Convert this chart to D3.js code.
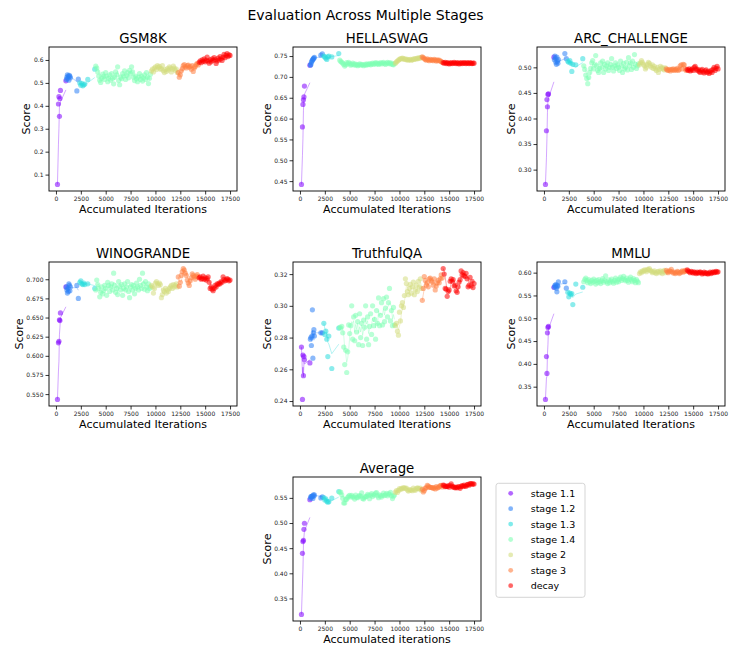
<!DOCTYPE html>
<html>
<head>
<meta charset="utf-8">
<script src="https://cdn.jsdelivr.net/npm/d3@7"></script>
<style>
  body { margin: 0; background: #fff; }
  svg { display: block; }
  text { font-family: "DejaVu Sans", sans-serif; }
</style>
</head>
<body>
<div class="chart"></div>
<script>
const stageNames = ["stage 1.1", "stage 1.2", "stage 1.3", "stage 1.4", "stage 2", "stage 3", "decay"];
const stageColors = ["#8000ff", "#2b80f6", "#2bdddd", "#80ffb4", "#d4dd80", "#ff8042", "#ff0000"];

// iterations of each checkpoint, one list per stage
const iters11 = [150, 250, 300, 350, 400, 450, 1000];
const iters12 = [1050, 1100, 1150, 1200, 1250, 1300, 1350, 1400, 1450, 2100, 2250];
const iters13 = [2400, 2500, 2600, 2700, 2800, 2900, 3200, 3900];
const iters14 = [4000, 4100, 4200, 4300, 4400, 4500, 4600, 4700, 4800, 4900,
  5000, 5100, 5200, 5300, 5400, 5500, 5600, 5700, 5800, 5900,
  6000, 6100, 6200, 6300, 6400, 6500, 6600, 6700, 6800, 6900,
  7000, 7100, 7200, 7300, 7400, 7500, 7600, 7700, 7800, 7900,
  8000, 8100, 8200, 8300, 8400, 8500, 8600, 8700, 8800, 8900,
  9000, 9100, 9200, 9300, 9400, 9500];
const iters2 = [9600, 9700, 9800, 9900, 10000, 10100, 10200, 10300, 10400, 10500,
  10600, 10700, 10800, 10900, 11000, 11100, 11200, 11300, 11400, 11500,
  11600, 11700, 11800, 11900, 12000, 12100, 12200];
const iters3 = [12300, 12400, 12500, 12600, 12700, 12800, 12900, 13000, 13100, 13200,
  13300, 13400, 13500, 13600, 13700, 13800, 13900, 14000, 14100, 14200, 14300];
const itersDecay = [14400, 14500, 14600, 14700, 14800, 14900, 15000, 15100, 15200, 15300,
  15400, 15500, 15600, 15700, 15800, 15900, 16000, 16100, 16200, 16300,
  16400, 16500, 16600, 16700, 16800, 16900, 17000, 17100, 17200, 17300, 17400, 17500];
const stageIters = [iters11, iters12, iters13, iters14, iters2, iters3, itersDecay];

// scores, one list per stage
const gsm8kScores = [
  [0.057, 0.408, 0.440, 0.354, 0.432, 0.467, 0.509],
  [0.515, 0.525, 0.535, 0.520, 0.530, 0.512, 0.533, 0.528, 0.522, 0.465, 0.516],
  [0.500, 0.490, 0.498, 0.487, 0.492, 0.495, 0.515, 0.560],
  [0.573, 0.565, 0.548, 0.530, 0.512, 0.502, 0.520, 0.538, 0.528, 0.515,
   0.545, 0.530, 0.505, 0.520, 0.535, 0.512, 0.540, 0.520, 0.496, 0.525,
   0.548, 0.535, 0.570, 0.510, 0.492, 0.525, 0.518, 0.540, 0.530, 0.552,
   0.515, 0.532, 0.545, 0.522, 0.555, 0.540, 0.570, 0.548, 0.525, 0.510,
   0.530, 0.518, 0.505, 0.525, 0.540, 0.515, 0.530, 0.508, 0.522, 0.535,
   0.515, 0.545, 0.525, 0.497, 0.520, 0.538],
  [0.552, 0.560, 0.548, 0.565, 0.570, 0.558, 0.575, 0.568, 0.572, 0.560,
   0.562, 0.575, 0.553, 0.545, 0.558, 0.550, 0.562, 0.556, 0.570, 0.565,
   0.548, 0.560, 0.573, 0.565, 0.555, 0.560, 0.545],
  [0.545, 0.525, 0.535, 0.553, 0.562, 0.575, 0.580, 0.570, 0.565, 0.575,
   0.578, 0.568, 0.572, 0.560, 0.575, 0.550, 0.565, 0.572, 0.580, 0.585, 0.578],
  [0.590, 0.596, 0.588, 0.600, 0.594, 0.605, 0.592, 0.598, 0.612, 0.595,
   0.586, 0.600, 0.592, 0.605, 0.598, 0.610, 0.602, 0.585, 0.596, 0.608,
   0.600, 0.615, 0.605, 0.598, 0.612, 0.625, 0.610, 0.620, 0.628, 0.615, 0.622, 0.620]
];
const hellaswagScores = [
  [0.442, 0.580, 0.634, 0.645, 0.652, 0.678, 0.728],
  [0.728, 0.730, 0.735, 0.738, 0.740, 0.742, 0.744, 0.745, 0.747, 0.752, 0.755],
  [0.750, 0.748, 0.745, 0.742, 0.748, 0.750, 0.748, 0.756],
  [0.740, 0.737, 0.735, 0.733, 0.730, 0.726, 0.729, 0.734, 0.731, 0.735,
   0.732, 0.728, 0.730, 0.733, 0.729, 0.731, 0.728, 0.730, 0.727, 0.729,
   0.731, 0.728, 0.730, 0.729, 0.727, 0.730, 0.728, 0.731, 0.729, 0.730,
   0.732, 0.729, 0.731, 0.733, 0.730, 0.732, 0.734, 0.731, 0.733, 0.730,
   0.732, 0.734, 0.731, 0.733, 0.735, 0.732, 0.730, 0.733, 0.735, 0.732,
   0.734, 0.731, 0.733, 0.730, 0.729, 0.732],
  [0.733, 0.736, 0.738, 0.740, 0.742, 0.744, 0.743, 0.745, 0.744, 0.742,
   0.743, 0.741, 0.742, 0.740, 0.741, 0.742, 0.740, 0.741, 0.743, 0.742,
   0.744, 0.743, 0.745, 0.744, 0.746, 0.745, 0.747],
  [0.748, 0.746, 0.744, 0.742, 0.740, 0.743, 0.741, 0.739, 0.742, 0.740,
   0.741, 0.739, 0.742, 0.740, 0.738, 0.741, 0.739, 0.740, 0.738, 0.737, 0.735],
  [0.734, 0.733, 0.735, 0.732, 0.734, 0.733, 0.731, 0.733, 0.734, 0.732,
   0.733, 0.735, 0.733, 0.732, 0.734, 0.733, 0.731, 0.733, 0.734, 0.732,
   0.733, 0.734, 0.733, 0.732, 0.734, 0.733, 0.732, 0.734, 0.733, 0.732, 0.733, 0.733]
];
const arcScores = [
  [0.271, 0.376, 0.437, 0.423, 0.447, 0.448, 0.520],
  [0.515, 0.522, 0.518, 0.510, 0.506, 0.520, 0.512, 0.508, 0.515, 0.527, 0.517],
  [0.512, 0.510, 0.513, 0.508, 0.492, 0.506, 0.505, 0.517],
  [0.503, 0.496, 0.485, 0.478, 0.468, 0.480, 0.490, 0.498, 0.509, 0.513,
   0.497, 0.505, 0.523, 0.503, 0.494, 0.490, 0.498, 0.509, 0.500, 0.512,
   0.490, 0.506, 0.497, 0.503, 0.509, 0.494, 0.500, 0.506, 0.517, 0.500,
   0.493, 0.503, 0.509, 0.498, 0.505, 0.500, 0.494, 0.512, 0.503, 0.490,
   0.508, 0.497, 0.500, 0.510, 0.495, 0.519, 0.503, 0.509, 0.496, 0.512,
   0.500, 0.525, 0.506, 0.498, 0.503, 0.507],
  [0.505, 0.509, 0.513, 0.510, 0.506, 0.503, 0.497, 0.500, 0.506, 0.510,
   0.508, 0.503, 0.500, 0.505, 0.498, 0.502, 0.497, 0.494, 0.500, 0.490,
   0.496, 0.502, 0.498, 0.500, 0.497, 0.495, 0.499],
  [0.497, 0.495, 0.494, 0.496, 0.493, 0.496, 0.495, 0.497, 0.494, 0.496,
   0.495, 0.498, 0.494, 0.496, 0.503, 0.505, 0.497, 0.506, 0.505, 0.497, 0.494],
  [0.496, 0.494, 0.497, 0.493, 0.495, 0.497, 0.494, 0.500, 0.502, 0.497,
   0.494, 0.496, 0.492, 0.490, 0.494, 0.496, 0.491, 0.489, 0.493, 0.495,
   0.490, 0.492, 0.488, 0.491, 0.494, 0.490, 0.496, 0.500, 0.494, 0.498, 0.502, 0.497]
];
const winograndeScores = [
  [0.543, 0.617, 0.619, 0.647, 0.646, 0.656, 0.690],
  [0.690, 0.686, 0.682, 0.688, 0.684, 0.694, 0.692, 0.685, 0.690, 0.692, 0.675],
  [0.696, 0.698, 0.694, 0.693, 0.695, 0.693, 0.694, 0.688],
  [0.686, 0.699, 0.693, 0.688, 0.677, 0.683, 0.690, 0.681, 0.685, 0.692,
   0.688, 0.679, 0.696, 0.692, 0.684, 0.690, 0.694, 0.686, 0.708, 0.692,
   0.683, 0.688, 0.680, 0.697, 0.691, 0.686, 0.693, 0.679, 0.688, 0.694,
   0.686, 0.690, 0.697, 0.684, 0.676, 0.690, 0.693, 0.686, 0.692, 0.681,
   0.688, 0.695, 0.690, 0.686, 0.700, 0.692, 0.688, 0.708, 0.694, 0.687,
   0.697, 0.690, 0.685, 0.694, 0.688, 0.690],
  [0.692, 0.690, 0.682, 0.688, 0.695, 0.697, 0.694, 0.692, 0.695, 0.693,
   0.676, 0.680, 0.686, 0.684, 0.688, 0.682, 0.686, 0.684, 0.688, 0.690,
   0.692, 0.688, 0.693, 0.690, 0.692, 0.694, 0.690],
  [0.703, 0.691, 0.696, 0.705, 0.710, 0.714, 0.712, 0.708, 0.705, 0.699,
   0.695, 0.692, 0.698, 0.702, 0.707, 0.705, 0.703, 0.700, 0.704, 0.706, 0.703],
  [0.702, 0.703, 0.700, 0.701, 0.704, 0.700, 0.702, 0.699, 0.701, 0.703,
   0.696, 0.688, 0.690, 0.687, 0.685, 0.688, 0.692, 0.690, 0.694, 0.693,
   0.695, 0.694, 0.697, 0.696, 0.703, 0.700, 0.698, 0.699, 0.701, 0.700, 0.698, 0.699]
];
const truthfulqaScores = [
  [0.274, 0.241, 0.269, 0.256, 0.268, 0.266, 0.264],
  [0.279, 0.280, 0.275, 0.281, 0.2975, 0.267, 0.283, 0.285, 0.281, 0.283, 0.283],
  [0.289, 0.282, 0.284, 0.279, 0.268, 0.281, 0.2605, 0.286],
  [0.2865, 0.286, 0.287, 0.283, 0.274, 0.263, 0.272, 0.258, 0.271, 0.288,
   0.2825, 0.2875, 0.300, 0.279, 0.293, 0.278, 0.294, 0.2835, 0.290, 0.2755,
   0.295, 0.280, 0.289, 0.275, 0.291, 0.2865, 0.300, 0.279, 0.293, 0.2755,
   0.287, 0.295, 0.282, 0.300, 0.2875, 0.2915, 0.279, 0.297, 0.289, 0.305,
   0.2875, 0.294, 0.302, 0.288, 0.3045, 0.290, 0.2985, 0.3055, 0.293, 0.302,
   0.311, 0.2905, 0.297, 0.2875, 0.299, 0.288],
  [0.2875, 0.289, 0.284, 0.2815, 0.296, 0.2905, 0.300, 0.302, 0.299, 0.3065,
   0.317, 0.314, 0.309, 0.307, 0.311, 0.3135, 0.308, 0.312, 0.315, 0.307,
   0.310, 0.313, 0.309, 0.3155, 0.312, 0.317, 0.311],
  [0.3035, 0.311, 0.3185, 0.316, 0.313, 0.3145, 0.312, 0.317, 0.3175, 0.316,
   0.315, 0.313, 0.317, 0.310, 0.3125, 0.3145, 0.316, 0.3145, 0.317, 0.3195, 0.3175],
  [0.3235, 0.320, 0.311, 0.3105, 0.306, 0.309, 0.310, 0.3155, 0.317, 0.3155,
   0.3165, 0.3125, 0.313, 0.3095, 0.3085, 0.312, 0.315, 0.3165, 0.322, 0.3195,
   0.321, 0.319, 0.3185, 0.3205, 0.317, 0.312, 0.313, 0.318, 0.3125, 0.3155, 0.3115, 0.314]
];
const mmluScores = [
  [0.322, 0.416, 0.379, 0.468, 0.480, 0.482, 0.568],
  [0.568, 0.572, 0.570, 0.574, 0.566, 0.558, 0.572, 0.570, 0.580, 0.580, 0.566],
  [0.557, 0.547, 0.555, 0.552, 0.554, 0.530, 0.575, 0.568],
  [0.580, 0.585, 0.588, 0.583, 0.578, 0.585, 0.580, 0.576, 0.583, 0.579,
   0.586, 0.581, 0.575, 0.583, 0.578, 0.585, 0.580, 0.576, 0.582, 0.587,
   0.579, 0.583, 0.593, 0.580, 0.576, 0.584, 0.578, 0.582, 0.586, 0.580,
   0.577, 0.583, 0.588, 0.579, 0.584, 0.580, 0.586, 0.590, 0.583, 0.587,
   0.592, 0.585, 0.582, 0.588, 0.583, 0.579, 0.586, 0.590, 0.584, 0.580,
   0.587, 0.583, 0.578, 0.585, 0.581, 0.578],
  [0.598, 0.602, 0.600, 0.604, 0.603, 0.606, 0.605, 0.602, 0.607, 0.606,
   0.609, 0.605, 0.603, 0.600, 0.602, 0.604, 0.600, 0.598, 0.602, 0.603,
   0.600, 0.604, 0.601, 0.598, 0.603, 0.605, 0.600],
  [0.605, 0.602, 0.600, 0.604, 0.603, 0.607, 0.602, 0.599, 0.601, 0.598,
   0.600, 0.603, 0.601, 0.598, 0.600, 0.602, 0.604, 0.601, 0.603, 0.605, 0.603],
  [0.606, 0.604, 0.602, 0.600, 0.603, 0.601, 0.599, 0.602, 0.600, 0.598,
   0.601, 0.599, 0.600, 0.602, 0.600, 0.597, 0.599, 0.601, 0.598, 0.600,
   0.598, 0.597, 0.599, 0.601, 0.598, 0.600, 0.602, 0.600, 0.601, 0.603, 0.601, 0.602]
];
// Average = mean of the six benchmarks at each checkpoint
const benchScores = [gsm8kScores, hellaswagScores, arcScores, winograndeScores, truthfulqaScores, mmluScores];
const averageScores = stageIters.map((xs, s) =>
  xs.map((_, i) => d3.mean(benchScores, b => b[s][i])));

const xTicks = [0, 2500, 5000, 7500, 10000, 12500, 15000, 17500];

const panels = [
  { title: "GSM8K", scores: gsm8kScores, ticks: [0.1, 0.2, 0.3, 0.4, 0.5, 0.6], fmt: ".1f", col: 0, row: 0, xlabel: "Accumulated Iterations" },
  { title: "HELLASWAG", scores: hellaswagScores, ticks: [0.45, 0.5, 0.55, 0.6, 0.65, 0.7, 0.75], fmt: ".2f", col: 1, row: 0, xlabel: "Accumulated Iterations" },
  { title: "ARC_CHALLENGE", scores: arcScores, ticks: [0.3, 0.35, 0.4, 0.45, 0.5], fmt: ".2f", col: 2, row: 0, xlabel: "Accumulated Iterations" },
  { title: "WINOGRANDE", scores: winograndeScores, ticks: [0.55, 0.575, 0.6, 0.625, 0.65, 0.675, 0.7], fmt: ".3f", col: 0, row: 1, xlabel: "Accumulated Iterations" },
  { title: "TruthfulQA", scores: truthfulqaScores, ticks: [0.24, 0.26, 0.28, 0.3, 0.32], fmt: ".2f", col: 1, row: 1, xlabel: "Accumulated Iterations" },
  { title: "MMLU", scores: mmluScores, ticks: [0.35, 0.4, 0.45, 0.5, 0.55, 0.6], fmt: ".2f", col: 2, row: 1, xlabel: "Accumulated Iterations" },
  { title: "Average", scores: averageScores, ticks: [0.35, 0.4, 0.45, 0.5, 0.55], fmt: ".2f", col: 1, row: 2, xlabel: "Accumulated iterations" }
];

const w = 731, h = 651;
const colLeft = [49, 293, 537];
const rowTop = [47, 262, 477];
const pw = 188, ph = 144;
const xDomain = [-700, 18200];

const svg = d3.select(".chart").append("svg")
  .attr("width", w)
  .attr("height", h);

svg.append("text")
  .attr("x", 365.5)
  .attr("y", 19.5)
  .attr("text-anchor", "middle")
  .style("font-size", "14px")
  .text("Evaluation Across Multiple Stages");

panels.forEach(p => {
  const left = colLeft[p.col], top = rowTop[p.row];
  const x = d3.scaleLinear().domain(xDomain).range([left, left + pw]);
  const [lo, hi] = d3.extent(p.scores.flat());
  const pad = (hi - lo) * 0.05;
  const y = d3.scaleLinear().domain([lo - pad, hi + pad]).range([top + ph, top]);

  const g = svg.append("g");

  stageIters.forEach((xs, s) => {
    const pts = xs.map((it, i) => [it, p.scores[s][i]]).filter(d => d[1] != null);
    g.append("g")
      .selectAll("circle")
      .data(pts)
      .join("circle")
      .attr("cx", d => x(d[0]))
      .attr("cy", d => y(d[1]))
      .attr("r", 2.6)
      .attr("fill", stageColors[s])
      .attr("fill-opacity", 0.55);

    // trailing rolling mean (3 checkpoints)
    const smooth = pts.map((d, i) => [d[0], d3.mean(pts.slice(Math.max(0, i - 2), i + 1), e => e[1])]);
    g.append("path")
      .datum(smooth)
      .attr("d", d3.line().x(d => x(d[0])).y(d => y(d[1])))
      .attr("fill", "none")
      .attr("stroke", stageColors[s])
      .attr("stroke-opacity", 0.35)
      .attr("stroke-width", 1);
  });

  const xAxis = d3.axisBottom(x).tickValues(xTicks).tickFormat(d3.format("d")).tickSize(3.5).tickPadding(2);
  const yAxis = d3.axisLeft(y).tickValues(p.ticks).tickFormat(d3.format(p.fmt)).tickSize(3.5).tickPadding(2);

  const xg = g.append("g")
    .attr("transform", `translate(0, ${top + ph})`)
    .call(xAxis);
  const yg = g.append("g")
    .attr("transform", `translate(${left}, 0)`)
    .call(yAxis);
  [xg, yg].forEach(a => {
    a.select(".domain").remove();
    a.attr("font-family", "DejaVu Sans").attr("font-size", 6);
    a.selectAll("line").attr("stroke", "#000").attr("stroke-width", 0.8);
    a.selectAll("text").attr("fill", "#222");
  });

  g.append("rect")
    .attr("x", left)
    .attr("y", top)
    .attr("width", pw)
    .attr("height", ph)
    .attr("fill", "none")
    .attr("stroke", "#000")
    .attr("stroke-width", 0.9);

  g.append("text")
    .attr("x", left + pw / 2)
    .attr("y", top - 4)
    .attr("text-anchor", "middle")
    .style("font-size", "13.3px")
    .text(p.title);

  g.append("text")
    .attr("x", left + pw / 2)
    .attr("y", top + ph + 22)
    .attr("text-anchor", "middle")
    .style("font-size", "11px")
    .text(p.xlabel);

  // y label sits just left of the tick labels
  const bb = yg.node().getBBox();
  const lx = left + bb.x - 3.5, ly = top + ph / 2;
  g.append("text")
    .attr("transform", `translate(${lx}, ${ly}) rotate(-90)`)
    .attr("text-anchor", "middle")
    .style("font-size", "11px")
    .text("Score");
});

// legend
const legend = svg.append("g");
legend.append("rect")
  .attr("x", 496)
  .attr("y", 483.3)
  .attr("width", 89)
  .attr("height", 114)
  .attr("rx", 2.5)
  .attr("fill", "#fff")
  .attr("stroke", "#d0d0d0")
  .attr("stroke-width", 0.9);
stageNames.forEach((name, i) => {
  const cy = 493.3 + i * 15.4;
  legend.append("circle")
    .attr("cx", 510.7)
    .attr("cy", cy)
    .attr("r", 2.4)
    .attr("fill", stageColors[i])
    .attr("fill-opacity", 0.6);
  legend.append("text")
    .attr("x", 530.7)
    .attr("y", cy + 3.4)
    .style("font-size", "9.5px")
    .text(name);
});
</script>
</body>
</html>
